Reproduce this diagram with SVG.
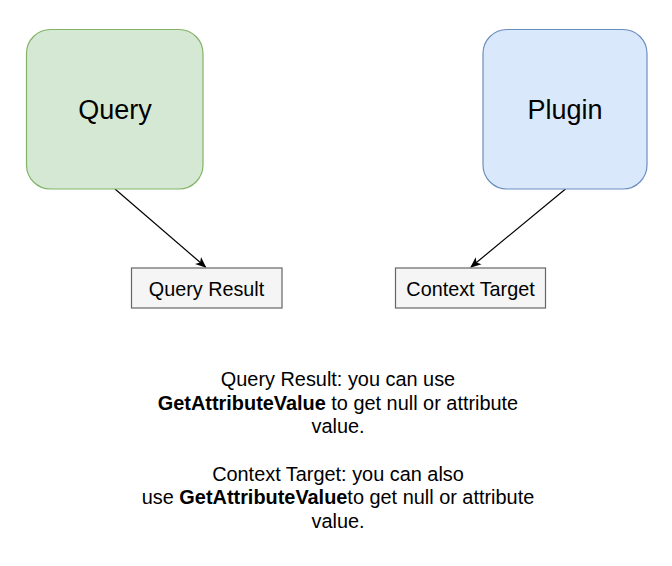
<svg xmlns="http://www.w3.org/2000/svg" width="672" height="566" viewBox="0 0 672 566">
<style>
text{font-family:"Liberation Sans",Arial,sans-serif;fill:#000;text-anchor:middle}
.big{font-size:27px}
.lbl{font-size:19.8px}
.note{font-size:19.9px}
.b{font-weight:bold}
.edge{stroke:#000;stroke-width:1.2;fill:none}
.small{fill:#f5f5f5;stroke:#666;stroke-width:1.2}
</style>
<defs>
<marker id="arr" viewBox="0 0 10 10" refX="9" refY="5" markerWidth="11" markerHeight="11" markerUnits="userSpaceOnUse" orient="auto">
<path d="M0,0.8 L10,5 L0,9.2 L2.6,5 Z" fill="#000"/>
</marker>
</defs>
<rect width="672" height="566" fill="#fff"/>
<g id="connectors">
<line class="edge" x1="115" y1="189" x2="205.5" y2="267" marker-end="url(#arr)"/>
<line class="edge" x1="565.5" y1="189" x2="471" y2="267" marker-end="url(#arr)"/>
</g>
<g id="query">
<rect x="26.5" y="29.5" width="176.5" height="159.5" rx="24" fill="#d5e8d4" stroke="#82b366" stroke-width="1.2"/>
<text class="big" x="115" y="119">Query</text>
</g>
<g id="plugin">
<rect x="483" y="29.5" width="164" height="159.5" rx="24" fill="#dae8fc" stroke="#6c8ebf" stroke-width="1.2"/>
<text class="big" x="565" y="119">Plugin</text>
</g>
<g id="query-result">
<rect class="small" x="131.5" y="268" width="150.5" height="40"/>
<text class="lbl" x="206.5" y="296">Query Result</text>
</g>
<g id="context-target">
<rect class="small" x="395.5" y="268" width="150" height="40"/>
<text class="lbl" x="470.5" y="296">Context Target</text>
</g>
<g id="note">
<text class="note" x="338" y="386">Query Result: you can use</text>
<text class="note" x="338" y="409.5"><tspan class="b">GetAttributeValue</tspan> to get null or attribute</text>
<text class="note" x="338" y="433">value.</text>
<text class="note" x="338" y="480.5">Context Target: you can also</text>
<text class="note" x="338" y="504">use <tspan class="b">GetAttributeValue</tspan>to get null or attribute</text>
<text class="note" x="338" y="528">value.</text>
</g>
</svg>
